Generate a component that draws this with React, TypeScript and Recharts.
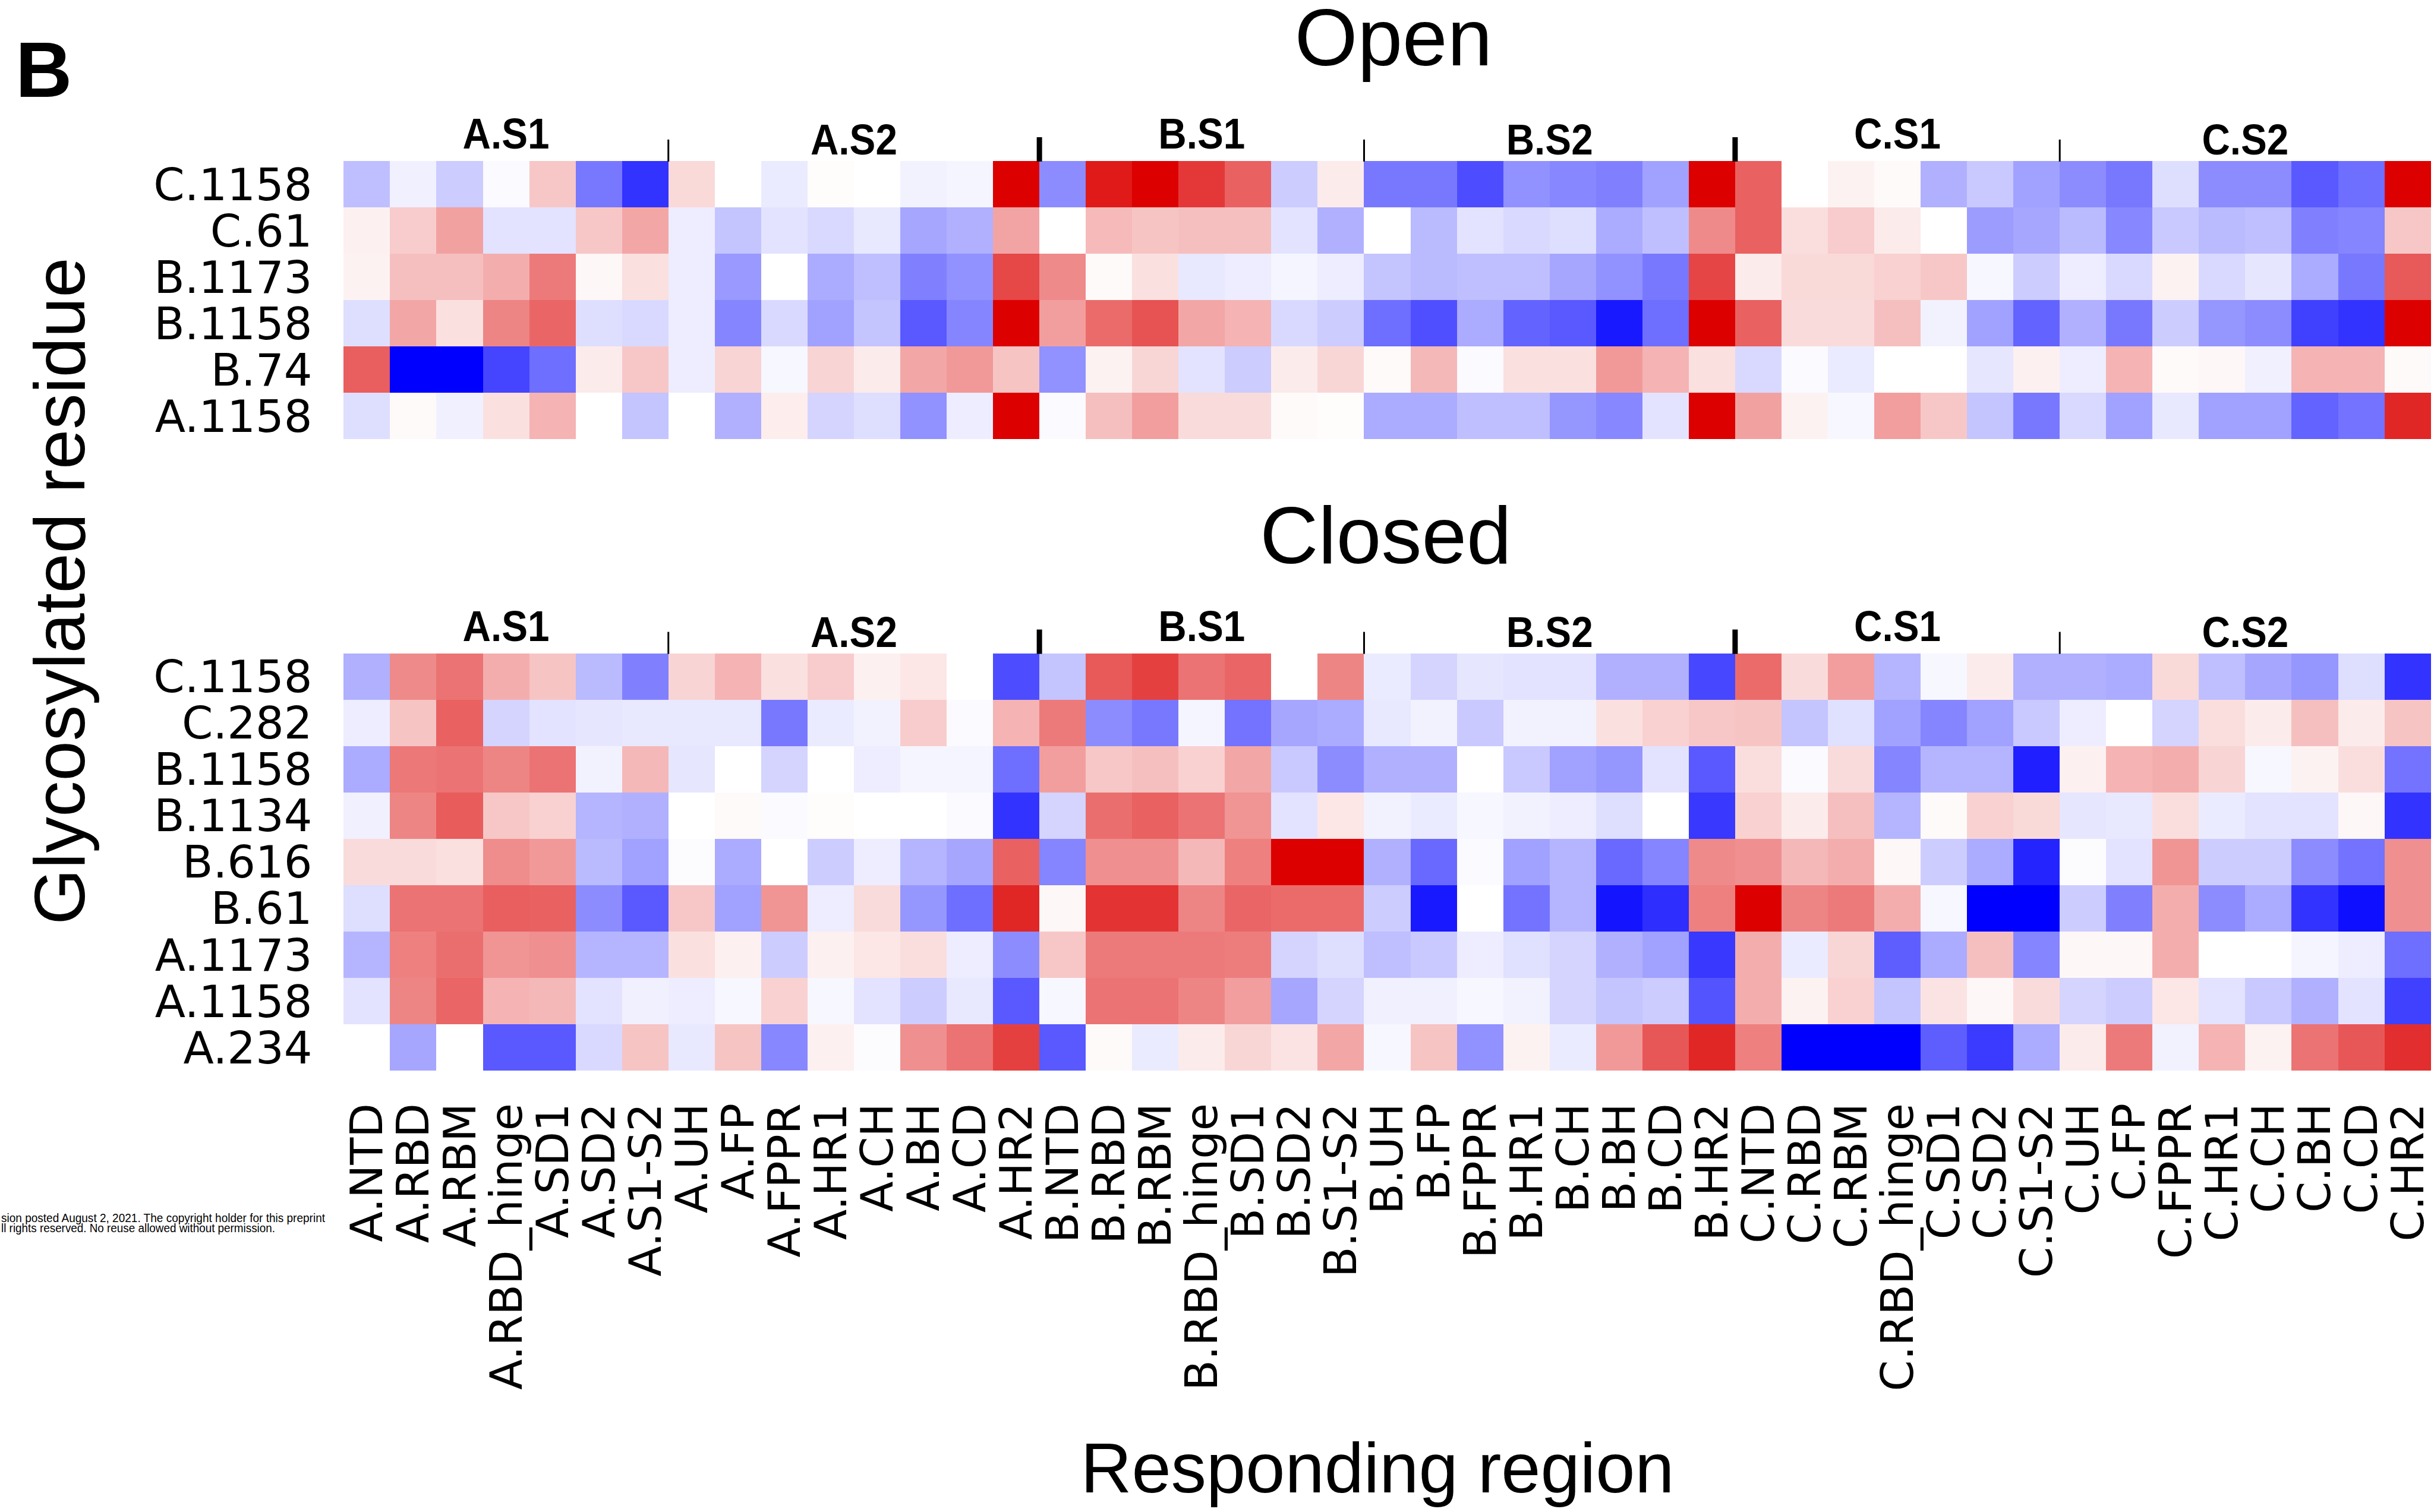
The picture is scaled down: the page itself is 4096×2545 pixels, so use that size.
import { ScatterChart, Scatter, XAxis, YAxis } from "recharts";

// columns: 3 chains x 15 regions
const chains = ["A", "B", "C"];
const regions = ["NTD", "RBD", "RBM", "RBD_hinge", "SD1", "SD2", "S1-S2", "UH", "FP", "FPPR", "HR1", "CH", "BH", "CD", "HR2"];
const columns = chains.flatMap((c) => regions.map((r) => `${c}.${r}`));
const groupNames = ["S1", "S2"];

const openRows = ["C.1158", "C.61", "B.1173", "B.1158", "B.74", "A.1158"];
// one row per glycosylated residue: chain A | chain B | chain C
const openValues = [
  [-0.25, -0.06, -0.2, -0.02, 0.22, -0.53, -0.8, 0.15, 0, -0.08, 0.01, 0, -0.05, -0.04, 1.0,
   -0.45, 0.9, 1.0, 0.78, 0.62, -0.2, 0.08, -0.53, -0.53, -0.7, -0.43, -0.47, -0.5, -0.37, 1.0,
   0.62, 0, 0.05, 0.02, -0.31, -0.21, -0.37, -0.45, -0.53, -0.13, -0.45, -0.45, -0.65, -0.57, 1.0],
  [0.06, 0.2, 0.37, -0.11, -0.11, 0.22, 0.35, -0.07, -0.23, -0.11, -0.15, -0.09, -0.35, -0.31, 0.36,
   0, 0.27, 0.23, 0.25, 0.25, -0.11, -0.31, 0, -0.27, -0.11, -0.15, -0.13, -0.33, -0.25, 0.46,
   0.62, 0.13, 0.2, 0.08, 0, -0.39, -0.35, -0.27, -0.47, -0.21, -0.27, -0.25, -0.5, -0.48, 0.22],
  [0.05, 0.25, 0.25, 0.32, 0.52, 0.03, 0.12, -0.07, -0.4, 0, -0.33, -0.25, -0.5, -0.43, 0.72,
   0.46, 0.02, 0.12, -0.09, -0.07, -0.04, -0.07, -0.23, -0.27, -0.25, -0.25, -0.35, -0.43, -0.53, 0.73,
   0.08, 0.15, 0.15, 0.18, 0.22, -0.03, -0.2, -0.07, -0.15, 0.05, -0.15, -0.1, -0.33, -0.53, 0.65],
  [-0.13, 0.35, 0.12, 0.48, 0.6, -0.13, -0.15, -0.07, -0.48, -0.15, -0.37, -0.23, -0.65, -0.48, 1.0,
   0.38, 0.58, 0.68, 0.35, 0.3, -0.15, -0.2, -0.57, -0.69, -0.33, -0.61, -0.65, -0.9, -0.57, 1.0,
   0.62, 0.14, 0.14, 0.25, -0.05, -0.37, -0.61, -0.31, -0.53, -0.2, -0.41, -0.45, -0.75, -0.8, 1.0],
  [0.63, -1, -1, -0.73, -0.57, 0.08, 0.22, -0.07, 0.17, -0.03, 0.17, 0.08, 0.35, 0.4, 0.23,
   -0.43, 0.05, 0.16, -0.11, -0.2, 0.08, 0.16, 0.02, 0.28, -0.02, 0.12, 0.12, 0.4, 0.3, 0.12,
   -0.15, -0.02, -0.08, 0, 0, -0.1, 0.06, -0.07, 0.3, 0.02, 0.03, -0.06, 0.3, 0.3, 0.02],
  [-0.13, 0.02, -0.06, 0.12, 0.3, 0, -0.23, 0, -0.31, 0.07, -0.17, -0.13, -0.43, -0.07, 1.0,
   -0.02, 0.25, 0.38, 0.14, 0.14, 0.02, 0.01, -0.33, -0.33, -0.25, -0.25, -0.41, -0.47, -0.11, 1.0,
   0.37, 0.05, -0.03, 0.38, 0.22, -0.23, -0.53, -0.15, -0.37, -0.09, -0.37, -0.37, -0.61, -0.55, 0.85],
];

const closedRows = ["C.1158", "C.282", "B.1158", "B.1134", "B.616", "B.61", "A.1173", "A.1158", "A.234"];
const closedValues = [
  [-0.31, 0.46, 0.55, 0.32, 0.23, -0.27, -0.5, 0.17, 0.3, 0.12, 0.2, 0.06, 0.1, 0, -0.7,
   -0.23, 0.65, 0.75, 0.55, 0.6, 0, 0.48, -0.08, -0.17, -0.1, -0.11, -0.11, -0.31, -0.31, -0.72,
   0.58, 0.14, 0.38, -0.29, -0.03, 0.08, -0.31, -0.31, -0.33, 0.15, -0.25, -0.35, -0.41, -0.13, -0.8],
  [-0.07, 0.23, 0.62, -0.17, -0.11, -0.1, -0.09, -0.09, -0.09, -0.53, -0.08, -0.05, 0.2, -0.02, 0.3,
   0.52, -0.45, -0.53, -0.04, -0.55, -0.35, -0.33, -0.09, -0.05, -0.21, -0.05, -0.05, 0.12, 0.18, 0.22,
   0.23, -0.23, -0.12, -0.37, -0.48, -0.37, -0.21, -0.07, 0, -0.17, 0.13, 0.08, 0.25, 0.08, 0.23],
  [-0.33, 0.53, 0.55, 0.48, 0.55, -0.05, 0.28, -0.1, 0, -0.17, 0, -0.07, -0.04, -0.04, -0.57,
   0.38, 0.22, 0.25, 0.18, 0.35, -0.21, -0.45, -0.31, -0.31, 0, -0.21, -0.37, -0.41, -0.11, -0.65,
   0.13, -0.02, 0.14, -0.48, -0.29, -0.29, -0.88, 0.06, 0.3, 0.32, 0.17, -0.03, 0.05, 0.13, -0.55],
  [-0.06, 0.48, 0.64, 0.22, 0.18, -0.29, -0.31, 0, 0.02, -0.02, 0.01, 0, 0, -0.02, -0.8,
   -0.17, 0.57, 0.62, 0.55, 0.42, -0.11, 0.1, -0.05, -0.08, -0.03, -0.05, -0.07, -0.13, 0, -0.78,
   0.18, 0.08, 0.25, -0.29, 0.02, 0.18, 0.15, -0.1, -0.09, 0.13, -0.08, -0.11, -0.11, 0.03, -0.8],
  [0.14, 0.14, 0.12, 0.45, 0.4, -0.27, -0.37, -0.01, -0.33, 0, -0.2, -0.07, -0.29, -0.35, 0.62,
   -0.48, 0.44, 0.44, 0.28, 0.5, 1.0, 1.0, -0.31, -0.59, -0.02, -0.37, -0.29, -0.59, -0.48, 0.46,
   0.44, 0.28, 0.32, 0.03, -0.2, -0.33, -0.86, -0.01, -0.11, 0.42, -0.2, -0.2, -0.45, -0.55, 0.44],
  [-0.13, 0.55, 0.55, 0.63, 0.62, -0.45, -0.65, 0.22, -0.37, 0.42, -0.07, 0.14, -0.41, -0.57, 0.85,
   0.03, 0.8, 0.8, 0.48, 0.6, 0.58, 0.58, -0.2, -0.9, 0, -0.55, -0.29, -0.92, -0.82, 0.5,
   1.0, 0.48, 0.52, 0.32, -0.03, -1, -1, -0.2, -0.5, 0.32, -0.45, -0.33, -0.8, -0.94, 0.44],
  [-0.29, 0.5, 0.57, 0.42, 0.44, -0.29, -0.29, 0.12, 0.06, -0.2, 0.06, 0.1, 0.13, -0.07, -0.45,
   0.22, 0.52, 0.52, 0.52, 0.51, -0.17, -0.13, -0.25, -0.21, -0.07, -0.12, -0.17, -0.31, -0.37, -0.78,
   0.32, -0.08, 0.16, -0.63, -0.33, 0.25, -0.48, 0.03, 0.03, 0.32, 0, 0, -0.04, -0.07, -0.57],
  [-0.11, 0.48, 0.6, 0.3, 0.28, -0.11, -0.06, -0.07, -0.03, 0.18, -0.03, -0.11, -0.2, -0.09, -0.65,
   -0.03, 0.55, 0.55, 0.48, 0.38, -0.35, -0.17, -0.06, -0.06, -0.03, -0.05, -0.17, -0.23, -0.2, -0.67,
   0.32, 0.05, 0.18, -0.23, 0.11, 0.03, 0.14, -0.17, -0.2, 0.1, -0.11, -0.21, -0.31, -0.11, -0.75],
  [0, -0.35, 0, -0.65, -0.65, -0.15, 0.23, -0.09, 0.23, -0.47, 0.06, -0.01, 0.44, 0.55, 0.75,
   -0.65, 0.02, -0.08, 0.08, 0.16, 0.11, 0.35, -0.03, 0.23, -0.43, 0.05, -0.08, 0.4, 0.66, 0.85,
   0.5, -1, -1, -1, -0.63, -0.77, -0.33, 0.08, 0.52, -0.05, 0.3, 0.05, 0.55, 0.66, 0.82],
];

const W = 4096;
const H = 2545;
const LEFT = 578.4;
const RIGHT = 4090.6;
const CELL = (RIGHT - LEFT) / columns.length;
const OPEN_TOP = 270.9;
const CLOSED_TOP = 1099.6;
const XAXIS_H = 600;
const sans = "'Liberation Sans', Arial, sans-serif";
const dejavu = "'DejaVu Sans', sans-serif";

// blue - white - red
function cellColor(v: number) {
  const t = Math.max(-1, Math.min(1, v));
  if (t < 0) {
    const k = Math.round(255 * (1 + t));
    return `rgb(${k},${k},255)`;
  }
  const r = Math.round(255 - 35 * t);
  const g = Math.round(255 * (1 - t));
  return `rgb(${r},${g},${g})`;
}

const ColTick = (props: any) => {
  const { x, y, payload } = props;
  return (
    <text
      x={x}
      y={y}
      transform={`rotate(-90 ${x} ${y})`}
      textAnchor="end"
      dominantBaseline="central"
      fontFamily={dejavu}
      fontSize={75}
      fill="#000"
    >
      {columns[Math.floor(payload.value)]}
    </text>
  );
};

function Heatmap({ rows, values, top, height, showColumns }: any) {
  const data = values.flatMap((row: number[], ri: number) =>
    row.map((v, ci) => ({ x: ci + 0.5, y: ri + 0.5, v }))
  );
  const plotH = rows.length * CELL;
  const axisH = showColumns ? XAXIS_H : 0;
  const bottom = height - top - plotH - axisH;
  return (
    <div style={{ position: "absolute", left: 0, top: 0 }}>
      <ScatterChart width={W} height={height} margin={{ top, right: W - RIGHT, bottom, left: 0 }}>
        <XAxis
          type="number"
          dataKey="x"
          domain={[0, columns.length]}
          ticks={columns.map((_, i) => i + 0.5)}
          interval={0}
          hide={!showColumns}
          height={axisH}
          axisLine={false}
          tickLine={false}
          tickSize={0}
          tickMargin={55}
          tick={<ColTick />}
        />
        <YAxis
          type="number"
          dataKey="y"
          domain={[0, rows.length]}
          reversed
          ticks={rows.map((_: string, i: number) => i + 0.5)}
          interval={0}
          tickFormatter={(v: number) => rows[Math.floor(v)]}
          width={LEFT}
          axisLine={false}
          tickLine={false}
          tickSize={0}
          tickMargin={53}
          tick={{ fontFamily: dejavu, fontSize: 75, fill: "#000" }}
        />
        <Scatter
          data={data}
          isAnimationActive={false}
          shape={(p: any) => (
            <rect
              x={p.cx - CELL / 2}
              y={p.cy - CELL / 2}
              width={CELL}
              height={CELL}
              fill={cellColor(p.payload.v)}
              shapeRendering="crispEdges"
            />
          )}
        />
      </ScatterChart>
    </div>
  );
}

function GroupHeaders({ top }: { top: number }) {
  const bounds = [7, 15, 22, 30, 37];
  return (
    <g>
      {chains.map((c, ci) =>
        groupNames.map((g, gi) => {
          const center = gi === 0 ? ci * 15 + 3.5 : ci * 15 + 11;
          return (
            <text
              key={`${c}${g}`}
              x={LEFT + center * CELL}
              y={gi === 0 ? top - 21 : top - 11}
              textAnchor="middle"
              fontFamily={sans}
              fontWeight="bold"
              fontSize={73}
              textLength={146}
              lengthAdjust="spacingAndGlyphs"
            >
              {`${c}.${g}`}
            </text>
          );
        })
      )}
      {bounds.map((b) => {
        const thick = b % 15 === 0;
        const x = LEFT + b * CELL;
        return (
          <line
            key={b}
            x1={x}
            x2={x}
            y1={top - (thick ? 40 : 36)}
            y2={top + 1}
            stroke="#000"
            strokeWidth={thick ? 9 : 3}
          />
        );
      })}
    </g>
  );
}

export default function App() {
  return (
    <div style={{ position: "absolute", left: 0, top: 0, width: W, height: H, background: "#fff", overflow: "hidden" }}>
      <Heatmap rows={openRows} values={openValues} top={OPEN_TOP} height={760} showColumns={false} />
      <Heatmap rows={closedRows} values={closedValues} top={CLOSED_TOP} height={H} showColumns />
      <svg width={W} height={H} style={{ position: "absolute", left: 0, top: 0, pointerEvents: "none" }}>
        <text x={26} y={163} fontFamily={sans} fontWeight="bold" fontSize={132}>B</text>
        <text x={2345} y={110} textAnchor="middle" fontFamily={sans} fontSize={136}>Open</text>
        <text x={2332} y={948} textAnchor="middle" fontFamily={sans} fontSize={136}>Closed</text>
        <GroupHeaders top={OPEN_TOP} />
        <GroupHeaders top={CLOSED_TOP} />
        <text x={142} y={995} transform="rotate(-90 142 995)" textAnchor="middle" fontFamily={sans} fontSize={121}>
          Glycosylated residue
        </text>
        <text x={2318} y={2512} textAnchor="middle" fontFamily={sans} fontSize={119}>
          Responding region
        </text>
        <g fontFamily="'Liberation Sans Narrow', 'Liberation Sans', sans-serif" fontSize={20} textAnchor="end">
          <text x={547} y={2057} textLength={545} lengthAdjust="spacingAndGlyphs">
            sion posted August 2, 2021. The copyright holder for this preprint
          </text>
          <text x={463} y={2074} textLength={461} lengthAdjust="spacingAndGlyphs">
            ll rights reserved. No reuse allowed without permission.
          </text>
        </g>
      </svg>
    </div>
  );
}
